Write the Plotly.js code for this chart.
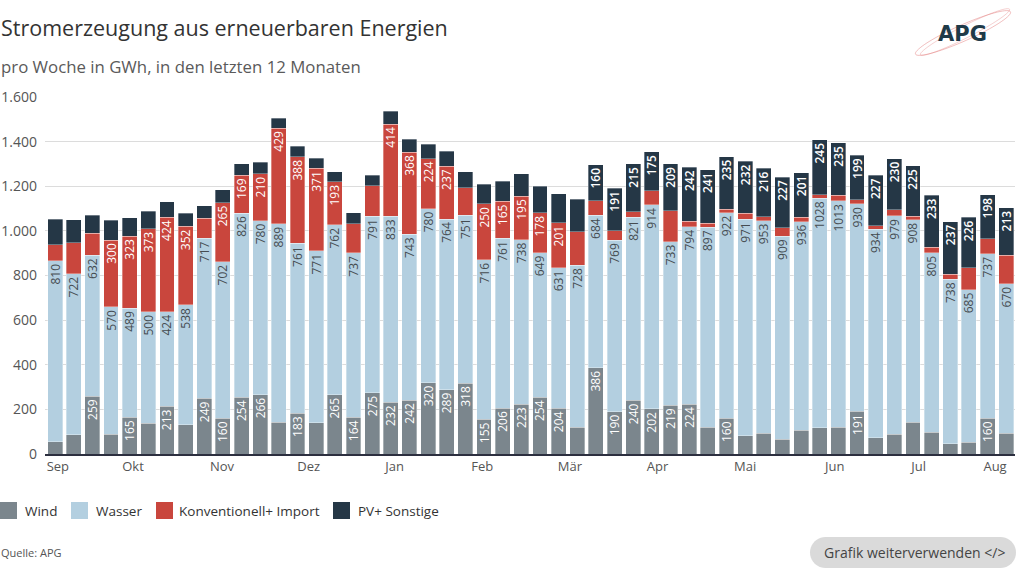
<!DOCTYPE html>
<html>
<head>
<meta charset="utf-8">
<script src="https://cdn.plot.ly/plotly-3.0.1.min.js"></script>
<style>
html,body{margin:0;padding:0;background:#fff;}
#chart{width:1024px;height:576px;}
</style>
</head>
<body>
<div id="chart"></div>
<script>
// ---- data (GWh per week, last 12 months) ----
const seriesNames = ['Wind', 'Wasser', 'Konventionell+ Import', 'PV+ Sonstige'];
const wind = [56, 86, 259, 89, 165, 137, 213, 130, 249, 160, 254, 266, 143, 183, 139, 265, 164, 275, 232, 242, 320, 289, 318, 155, 206, 223, 254, 204, 119, 386, 190, 240, 202, 219, 224, 119, 160, 81, 93, 67, 106, 118, 121, 191, 73, 88, 142, 97, 45, 52, 160, 93];
const wasser = [810, 722, 632, 570, 489, 500, 424, 538, 717, 702, 826, 780, 889, 761, 771, 762, 737, 791, 833, 743, 780, 764, 751, 716, 761, 738, 649, 631, 728, 684, 769, 821, 914, 733, 794, 897, 922, 971, 953, 909, 936, 1028, 1013, 930, 934, 979, 908, 805, 738, 685, 737, 670];
const konventionell = [71, 139, 99, 300, 323, 373, 424, 352, 90, 265, 169, 210, 429, 388, 371, 193, 131, 137, 414, 368, 224, 237, 125, 250, 165, 195, 178, 201, 149, 66, 42, 24, 63, 139, 25, 18, 16, 27, 18, 38, 18, 17, 25, 19, 15, 27, 16, 24, 22, 97, 67, 128];
const pvSonstige = [115, 102, 80, 88, 81, 78, 70, 59, 57, 57, 52, 52, 43, 48, 45, 46, 49, 46, 58, 58, 64, 67, 72, 87, 91, 100, 119, 130, 145, 160, 191, 215, 175, 209, 242, 241, 235, 232, 216, 227, 201, 245, 235, 199, 227, 230, 225, 233, 237, 226, 198, 213];
const monthLabels = ['Sep', 'Okt', 'Nov', 'Dez', 'Jan', 'Feb', 'Mär', 'Apr', 'Mai', 'Jun', 'Jul', 'Aug'];
const yTicks = [0, 200, 400, 600, 800, 1000, 1200, 1400, 1600];

// week index (category position) for every bar
const weekIdx = wind.map((_, i) => i);

// ---- styling ----
const FONT = 'Open Sans, Roboto, sans-serif';
const colors = ['#7b868d', '#b3cfe0', '#c9463d', '#253746'];
const labelColors = ['#ffffff', '#454c51', '#ffffff', '#ffffff'];
const labelWeights = [400, 400, 400, 600];
const LABEL_MIN = 150;

const allSeries = [wind, wasser, konventionell, pvSonstige];
const traces = allSeries.map((vals, k) => ({
  type: 'bar',
  name: seriesNames[k],
  x: weekIdx,
  y: vals,
  marker: {color: colors[k], line: {color: 'rgba(255,255,255,0.55)', width: 0.6}},
  text: vals.map(v => v >= LABEL_MIN ? String(v) : ''),
  textposition: 'inside',
  insidetextanchor: 'end',
  textangle: -90,
  constraintext: 'none',
  insidetextfont: {family: FONT, size: 12, color: labelColors[k], weight: labelWeights[k]},
  hoverinfo: 'skip',
  showlegend: false
}));

// ---- pixel helpers for decorations (plot area: x 45..1015, y 97..454) ----
const PL = 45, PR = 1015, PT = 97, PB = 454;
const px2x = p => (p - PL) / (PR - PL);
const px2y = p => (PB - p) / (PB - PT);

function polyPath(pts, close) {
  return pts.map((p, i) => (i ? 'L' : 'M') + px2x(p[0]).toFixed(5) + ',' + px2y(p[1]).toFixed(5)).join(' ') + (close ? ' Z' : '');
}
function ellipsePts(cx, cy, rx, ry, angDeg) {
  const a = angDeg * Math.PI / 180, pts = [];
  for (let s = 0; s <= 72; s++) {
    const t = s / 72 * 2 * Math.PI;
    pts.push([cx + rx * Math.cos(t) * Math.cos(a) - ry * Math.sin(t) * Math.sin(a),
              cy + rx * Math.cos(t) * Math.sin(a) + ry * Math.sin(t) * Math.cos(a)]);
  }
  return pts;
}
function pillPts(x0, y0, x1, y1) {
  const r = (y1 - y0) / 2, cyy = (y0 + y1) / 2, pts = [];
  for (let s = 0; s <= 20; s++) { const t = -Math.PI / 2 + s / 20 * Math.PI; pts.push([x1 - r + r * Math.cos(t), cyy + r * Math.sin(t)]); }
  for (let s = 0; s <= 20; s++) { const t = Math.PI / 2 + s / 20 * Math.PI; pts.push([x0 + r + r * Math.cos(t), cyy + r * Math.sin(t)]); }
  return pts;
}

const shapes = [
  {type: 'path', xref: 'paper', yref: 'paper', path: polyPath(ellipsePts(963, 33, 52, 8, -24), true),
   line: {color: 'rgba(226,120,120,0.6)', width: 0.8}, fillcolor: 'rgba(0,0,0,0)'},
  {type: 'path', xref: 'paper', yref: 'paper', path: polyPath(ellipsePts(965, 32, 50, 6, -27), true),
   line: {color: 'rgba(226,120,120,0.5)', width: 0.7}, fillcolor: 'rgba(0,0,0,0)'},
  {type: 'path', xref: 'paper', yref: 'paper', path: polyPath(pillPts(810, 537, 1016, 568), true),
   line: {width: 0}, fillcolor: '#dadada', layer: 'below'}
];

const annotations = [
  {xref: 'paper', yref: 'paper', x: px2x(-1), y: px2y(66), xanchor: 'left', yanchor: 'middle', showarrow: false,
   text: 'pro Woche in GWh, in den letzten 12 Monaten', font: {family: FONT, size: 16.8, color: '#5a5a5a'}},
  {xref: 'paper', yref: 'paper', x: px2x(-1), y: px2y(552), xanchor: 'left', yanchor: 'middle', showarrow: false,
   text: 'Quelle: APG', font: {family: FONT, size: 11, color: '#555'}},
  {xref: 'paper', yref: 'paper', x: px2x(914), y: px2y(552), xanchor: 'center', yanchor: 'middle', showarrow: false,
   text: 'Grafik weiterverwenden &lt;/&gt;', font: {family: FONT, size: 14, color: '#444'}},
  {xref: 'paper', yref: 'paper', x: px2x(962), y: px2y(34), xanchor: 'center', yanchor: 'middle', showarrow: false,
   text: 'APG', font: {family: 'DejaVu Sans, sans-serif', size: 21, color: '#1f3a48', weight: 700}}
];

// custom legend (squares + names) below the chart
const legendSquareX = [0, 71, 156, 333];
const legendTextX = [25, 96, 179, 358];
seriesNames.forEach((nm, k) => {
  shapes.push({type: 'rect', xref: 'paper', yref: 'paper',
    x0: px2x(legendSquareX[k]), x1: px2x(legendSquareX[k] + 17), y0: px2y(519), y1: px2y(502),
    fillcolor: colors[k], line: {width: 0}});
  annotations.push({xref: 'paper', yref: 'paper', x: px2x(legendTextX[k] - 2), y: px2y(511),
    xanchor: 'left', yanchor: 'middle', showarrow: false, text: nm,
    font: {family: FONT, size: 13.5, color: '#333'}});
});

const layout = {
  width: 1024, height: 576,
  paper_bgcolor: '#ffffff', plot_bgcolor: '#ffffff',
  margin: {l: PL, r: 1024 - PR, t: PT, b: 576 - PB, pad: 0},
  font: {family: FONT, color: '#555'},
  separators: ',.',
  title: {text: 'Stromerzeugung aus erneuerbaren Energien', x: 1 / 1024, xref: 'container', xanchor: 'left',
          y: 1 - 28 / 576, yref: 'container', yanchor: 'middle',
          font: {family: FONT, size: 21.5, color: '#333'}},
  barmode: 'stack',
  bargap: 0.2,
  showlegend: false,
  xaxis: {
    range: [-0.54, 51.47],
    tickmode: 'array',
    tickvals: [0.15, 4.18, 8.95, 13.6, 18.2, 22.9, 27.6, 32.3, 37.0, 41.8, 46.3, 50.4],
    ticktext: monthLabels,
    showgrid: false, zeroline: false,
    showline: true, linecolor: '#2c2f3f', linewidth: 1.5,
    ticks: '', tickfont: {family: FONT, size: 13, color: '#555'},
    fixedrange: true
  },
  yaxis: {
    range: [0, 1600],
    tickmode: 'array',
    tickvals: yTicks,
    separatethousands: true,
    showgrid: true, gridcolor: '#dcdcdc', gridwidth: 1,
    zeroline: false, showline: false, ticks: '',
    ticklabelstandoff: 7,
    tickfont: {family: FONT, size: 14, color: '#555'},
    fixedrange: true
  },
  shapes: shapes,
  annotations: annotations
};

Plotly.newPlot('chart', traces, layout, {displayModeBar: false, staticPlot: true});
</script>
</body>
</html>
